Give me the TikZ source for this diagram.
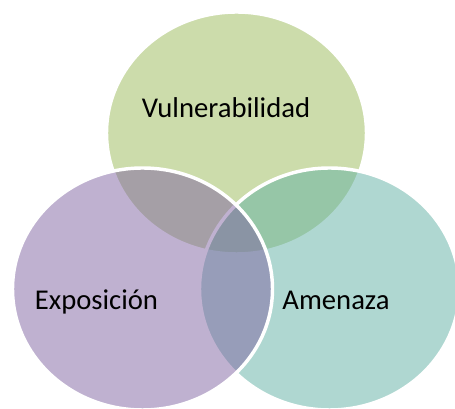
\documentclass[tikz,border=0pt]{standalone}
\usepackage{fontspec}
\setmainfont{Carlito}
\definecolor{vennvuln}{RGB}{155,187,89}
\definecolor{vennamen}{RGB}{97,177,165}
\definecolor{vennexpo}{RGB}{128,100,162}
\tikzset{
  venncircle/.style={draw=white,line width=2.6pt,fill opacity=.5},
  vennlabel/.style={anchor=base,text=black,font=\fontsize{21.5}{24}\selectfont}
}
\begin{document}
\begin{tikzpicture}[x=.75pt,y=-.75pt]
\clip (0,0) rectangle (455,409);
\fill[white] (0,0) rectangle (455,409);
% Drawing order matters: each translucent set lies over the ones before it.
\path[venncircle,fill=vennvuln] (236.5,133) ellipse [x radius=130,y radius=121];
\path[venncircle,fill=vennamen] (329.5,289) ellipse [x radius=130,y radius=121];
\path[venncircle,fill=vennexpo] (142.5,289) ellipse [x radius=130,y radius=121];
\node[vennlabel] (vuln) at (226,118) {Vulnerabilidad};
\node[vennlabel] (expo) at (96.5,310) {Exposición};
\node[vennlabel] (amen) at (336,310) {Amenaza};
\end{tikzpicture}
\end{document}
